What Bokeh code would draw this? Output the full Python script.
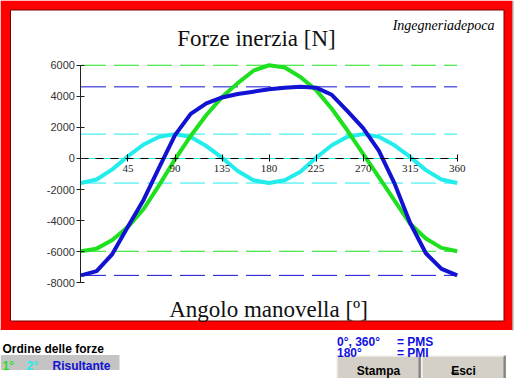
from bokeh.plotting import figure
from bokeh.models import Range1d, LinearAxis, FixedTicker
from bokeh.core.properties import value
from bokeh.embed import file_html
from bokeh.resources import INLINE

# ---------------- data ----------------
angles = [0, 15, 30, 45, 60, 75, 90, 105, 120, 135, 150, 165, 180,
          195, 210, 225, 240, 255, 270, 285, 300, 315, 330, 345, 360]
first_order = [-5970, -5800, -5250, -4400, -3250, -1700, -50, 1450, 2800, 3950, 4850, 5650, 6000,
               5850, 5250, 4400, 3200, 1800, 300, -1200, -2700, -4200, -5150, -5750, -5970]
second_order = [-1580, -1350, -700, 150, 900, 1400, 1570, 1380, 800, 50, -800, -1400, -1580,
                -1400, -850, 50, 850, 1400, 1570, 1400, 850, 100, -750, -1350, -1580]
resultant = [-7520, -7250, -6150, -4380, -2650, -550, 1500, 2870, 3550, 3930, 4150, 4300, 4450,
             4550, 4610, 4560, 4100, 3050, 1950, 500, -1600, -4150, -6100, -7100, -7520]

x_ticks = [45, 90, 135, 180, 225, 270, 315, 360]
x_tick_labels = ["45", "90", "135", "180", "225", "270", "315", "360"]
y_ticks = [-8000, -6000, -4000, -2000, 0, 2000, 4000, 6000]
y_tick_labels = ["-8000", "-6000", "-4000", "-2000", "0", "2000", "4000", "6000"]

title_text = "Forze inerzia [N]"
xlabel_text = "Angolo manovella [º]"
brand_text = "Ingegneriadepoca"

# ---------------- figure ----------------
W, H = 515, 378
GREEN, CYAN, BLUE = "#1ee01e", "#22ecec", "#1212d2"

p = figure(width=W, height=H, output_backend="svg", toolbar_location=None,
           x_range=Range1d(-77.0, 415.8), y_range=Range1d(-14157, 10167),
           x_axis_type=None, y_axis_type=None, min_border=0,
           outline_line_color=None, background_fill_color="white",
           border_fill_color="white")
p.extra_x_ranges = {"px": Range1d(0, W)}
p.extra_y_ranges = {"px": Range1d(H, 0)}
PX = dict(x_range_name="px", y_range_name="px")

# red frame and white panel
p.quad(left=[0], right=[512], top=[0], bottom=[329.5], fill_color="#ff0000",
       line_color=None, level="underlay", **PX)
p.quad(left=[10], right=[503.5], top=[9.5], bottom=[320.5], fill_color="white",
       line_color="#7a0000", line_width=1, level="underlay", **PX)
p.segment(x0=[512.5], y0=[0], x1=[512.5], y1=[330], line_color="#a0a0a0",
          line_width=1, **PX)

# reference (max / min) dashed lines
x0, x1 = angles[0], angles[-1]
for series, col in ((first_order, GREEN), (resultant, BLUE), (second_order, CYAN)):
    lv = [max(series), min(series)]
    p.segment(x0=[x0, x0], x1=[x1, x1], y0=lv, y1=lv, line_color=col,
              line_width=1, line_dash="25 8")
p.segment(x0=[x0], x1=[x1], y0=[0], y1=[0], line_color=CYAN, line_width=1)

# curves
p.line(angles, second_order, line_color=CYAN, line_width=4)
p.line(angles, first_order, line_color=GREEN, line_width=4)
p.line(angles, resultant, line_color=BLUE, line_width=4)

# axes drawn at data 0
xaxis = LinearAxis(fixed_location=0, ticker=FixedTicker(ticks=x_ticks),
                   major_label_overrides=dict(zip(x_ticks, x_tick_labels)),
                   bounds=(0, 360), axis_line_color="black", axis_line_dash="8 7",
                   major_tick_in=4, major_tick_out=3, major_tick_line_color="black",
                   minor_tick_line_color=None, major_label_standoff=4,
                   major_label_text_font="Liberation Serif",
                   major_label_text_font_size="11px",
                   major_label_text_color="#222222")
p.add_layout(xaxis, "below")
yaxis = LinearAxis(fixed_location=0, ticker=FixedTicker(ticks=y_ticks),
                   major_label_overrides=dict(zip(y_ticks, y_tick_labels)),
                   bounds=(-8000, 6000), axis_line_color="#222222",
                   major_tick_in=4, major_tick_out=4, major_tick_line_color="#222222",
                   minor_tick_line_color=None, major_label_standoff=2,
                   major_label_text_font="Liberation Sans",
                   major_label_text_font_size="11px",
                   major_label_text_color="#333333")
p.add_layout(yaxis, "left")

# texts in the chart panel
p.text(x=[256], y=[37.5], text=[title_text], text_font=value("Liberation Serif"),
       text_font_size="23px", text_align="center", text_baseline="alphabetic",
       text_color="#111111", **PX)
p.text(x=[268], y=[308.5], text=[xlabel_text], text_font=value("Liberation Serif"),
       text_font_size="23px", text_align="center", text_baseline="alphabetic",
       text_color="#111111", **PX)
p.text(x=[494], y=[25], text=[brand_text], text_font=value("Liberation Serif"),
       text_font_style="italic", text_font_size="14px", text_align="right",
       text_baseline="alphabetic", text_color="black", **PX)

# buttons (drawn first so the labels above stay visible)
for l, r in ((336, 420), (421, 505)):
    p.quad(left=[l], right=[r], top=[355], bottom=[380], fill_color="#d4d0c8",
           line_color=None, **PX)
    p.segment(x0=[l + 0.5, l + 0.5], y0=[355.5, 355.5], x1=[r - 0.5, l + 0.5],
              y1=[355.5, 380], line_color="white", line_width=1, **PX)
    p.segment(x0=[r - 0.5], y0=[355], x1=[r - 0.5], y1=[380], line_color="#404040",
              line_width=1, **PX)
    p.segment(x0=[r - 1.5], y0=[356], x1=[r - 1.5], y1=[380], line_color="#808080",
              line_width=1, **PX)
p.text(x=[378, 463], y=[370, 370], text=["Stampa", "Esci"],
       text_font=value("Liberation Sans"), text_font_style="bold",
       text_font_size="12px", text_align="center", text_baseline="alphabetic",
       text_color="black", **PX)
p.segment(x0=[450.5], y0=[372.5], x1=[458.5], y1=[372.5], line_color="black",
          line_width=1, **PX)

# lower panel texts
p.text(x=[2], y=[348.5], text=["Ordine delle forze"], text_font=value("Liberation Sans"),
       text_font_style="bold", text_font_size="12px", text_align="left",
       text_baseline="alphabetic", text_color="black", **PX)
p.quad(left=[0], right=[119], top=[354.5], bottom=[369.5], fill_color="#c4c4c4",
       line_color=None, **PX)
p.text(x=[2, 26, 52], y=[365, 365, 365], text=["1°", "2°", "Risultante"],
       text_color=[GREEN, CYAN, BLUE], text_font=value("Liberation Sans"),
       text_font_style="bold", text_font_size="12px", text_align="left",
       text_baseline="alphabetic", **PX)
p.text(x=[336.5, 396.5, 336.5, 396.5], y=[341, 341, 352.5, 352.5],
       text=["0°, 360°", "= PMS", "180°", "= PMI"], text_color="#1010e0",
       text_font=value("Liberation Sans"), text_font_style="bold",
       text_font_size="12px", text_align="left", text_baseline="alphabetic", **PX)

open("out.html", "w").write(file_html(p, INLINE))
